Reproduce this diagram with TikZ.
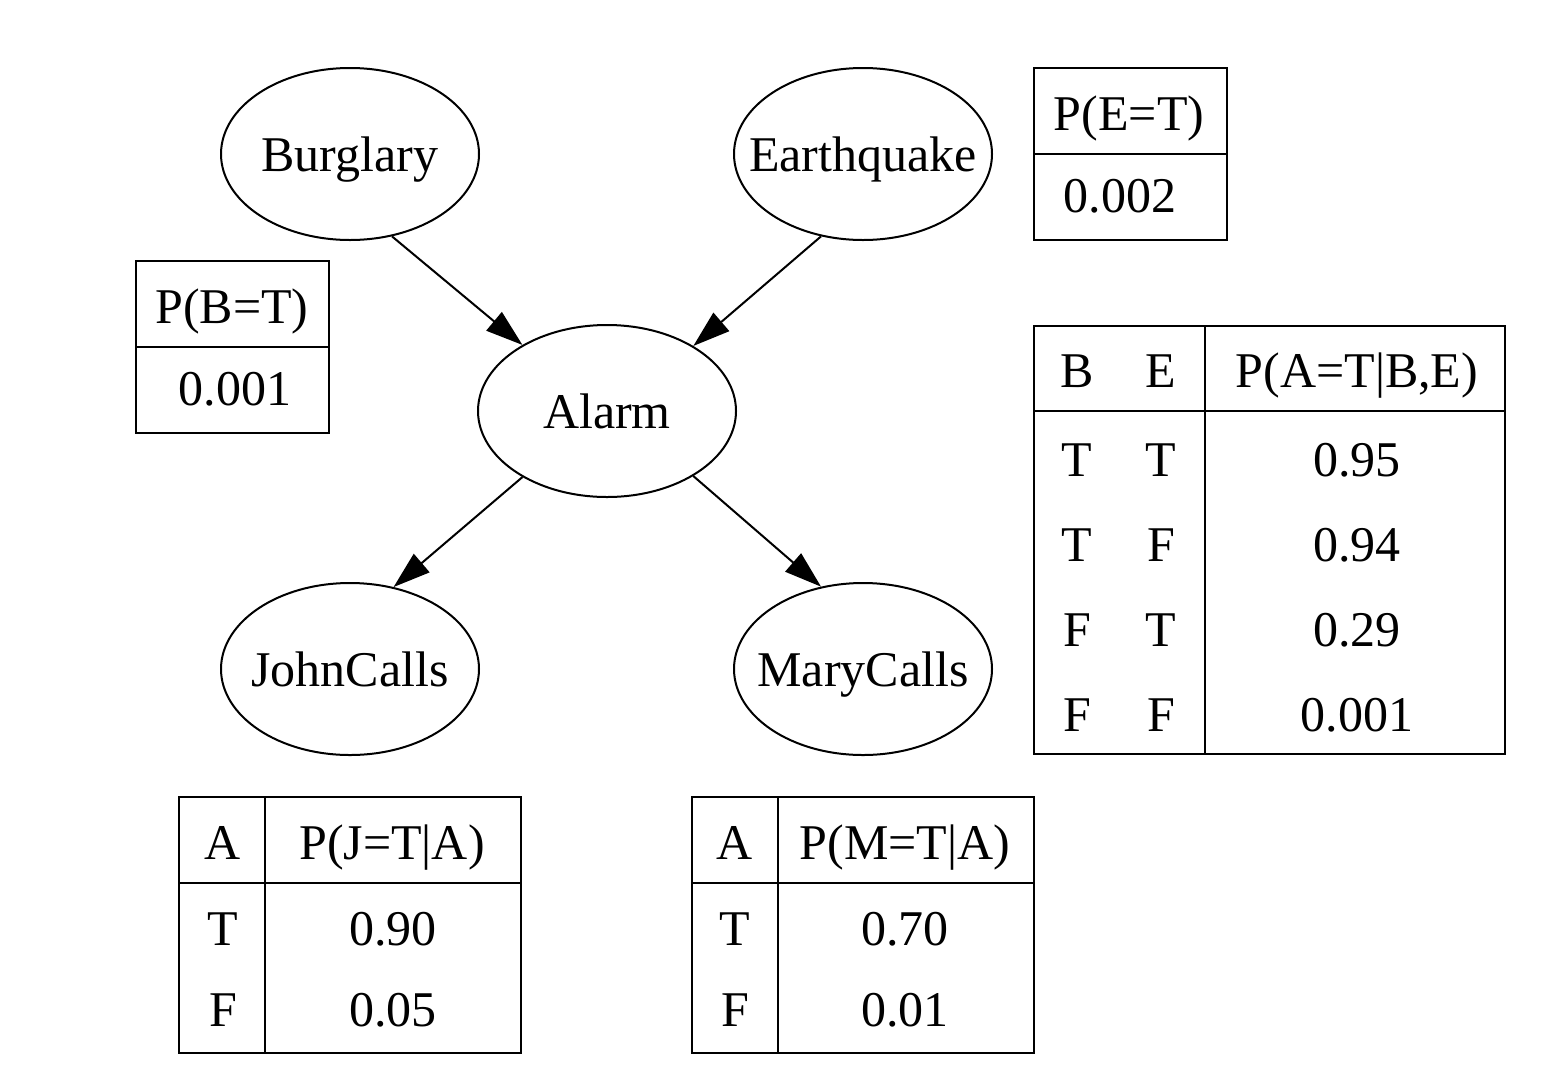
\documentclass[tikz,border=0pt]{standalone}
\usepackage{fontspec}
\setmainfont{Liberation Serif}
\usetikzlibrary{arrows.meta,shapes.geometric}
\newcommand{\zw}[1]{\makebox[0pt]{#1}}
\begin{document}
\begin{tikzpicture}[x=0.5pt,y=-0.5pt,
  var/.style={ellipse,draw,line width=1pt,minimum width=129pt,minimum height=86pt,inner sep=0pt,
    font=\fontsize{25}{30}\selectfont,text height=17pt,text depth=0pt},
  txt/.style={anchor=base,inner sep=0pt,font=\fontsize{25}{30}\selectfont},
  tbl/.style={draw,line width=1pt},
  edge/.style={line width=1pt,-{Triangle[length=18.5pt,width=12pt]}}]
\useasboundingbox (0,0) rectangle (1546,1082);
% variables
\node[var] (B) at (350,154) {\zw{Burglary}};
\node[var] (E) at (863,154) {\zw{Earthquake}};
\node[var] (A) at (607,411) {\zw{Alarm}};
\node[var] (J) at (350,669) {\zw{JohnCalls}};
\node[var] (M) at (863,669) {\zw{MaryCalls}};
% edges
\draw[edge] (B.-63.2) -- (A.142.5);
\draw[edge] (E.-117.4) -- (A.37.2);
\draw[edge] (A.-142.5) -- (J.62.3);
\draw[edge] (A.-37.5) -- (M.117);
% P(B=T)
\draw[tbl] (136,261) rectangle (329,433);
\draw[tbl] (136,347) -- (329,347);
\node[txt] (bh) at (232,323) {P(B=T)};
\node[txt] (bv) at (235,405) {0.001};
% P(E=T)
\draw[tbl] (1034,68) rectangle (1227,240);
\draw[tbl] (1034,154) -- (1227,154);
\node[txt] (eh) at (1129,130) {P(E=T)};
\node[txt] (ev) at (1120,212) {0.002};
% P(A=T|B,E)
\draw[tbl] (1034,326) rectangle (1505,754);
\draw[tbl] (1034,411) -- (1505,411);
\draw[tbl] (1205,326) -- (1205,754);
\node[txt] (ah1) at (1077,387) {B};
\node[txt] (ah2) at (1161,387) {E};
\node[txt] (ah3) at (1357,387) {P(A=T|B,E)};
\node[txt] (a11) at (1077,476) {T};
\node[txt] (a12) at (1161,476) {T};
\node[txt] (a13) at (1357,476) {0.95};
\node[txt] (a21) at (1077,561) {T};
\node[txt] (a22) at (1161,561) {F};
\node[txt] (a23) at (1357,561) {0.94};
\node[txt] (a31) at (1077,646) {F};
\node[txt] (a32) at (1161,646) {T};
\node[txt] (a33) at (1357,646) {0.29};
\node[txt] (a41) at (1077,731) {F};
\node[txt] (a42) at (1161,731) {F};
\node[txt] (a43) at (1357,731) {0.001};
% P(J=T|A)
\draw[tbl] (179,797) rectangle (521,1053);
\draw[tbl] (179,883) -- (521,883);
\draw[tbl] (265,797) -- (265,1053);
\node[txt] (jh1) at (223,859) {A};
\node[txt] (jh2) at (392,859) {P(J=T|A)};
\node[txt] (j11) at (223,945) {T};
\node[txt] (j12) at (393,945) {0.90};
\node[txt] (j21) at (223,1026) {F};
\node[txt] (j22) at (393,1026) {0.05};
% P(M=T|A)
\draw[tbl] (692,797) rectangle (1034,1053);
\draw[tbl] (692,883) -- (1034,883);
\draw[tbl] (778,797) -- (778,1053);
\node[txt] (mh1) at (735,859) {A};
\node[txt] (mh2) at (905,859) {P(M=T|A)};
\node[txt] (m11) at (735,945) {T};
\node[txt] (m12) at (905,945) {0.70};
\node[txt] (m21) at (735,1026) {F};
\node[txt] (m22) at (905,1026) {0.01};
\end{tikzpicture}
\end{document}
